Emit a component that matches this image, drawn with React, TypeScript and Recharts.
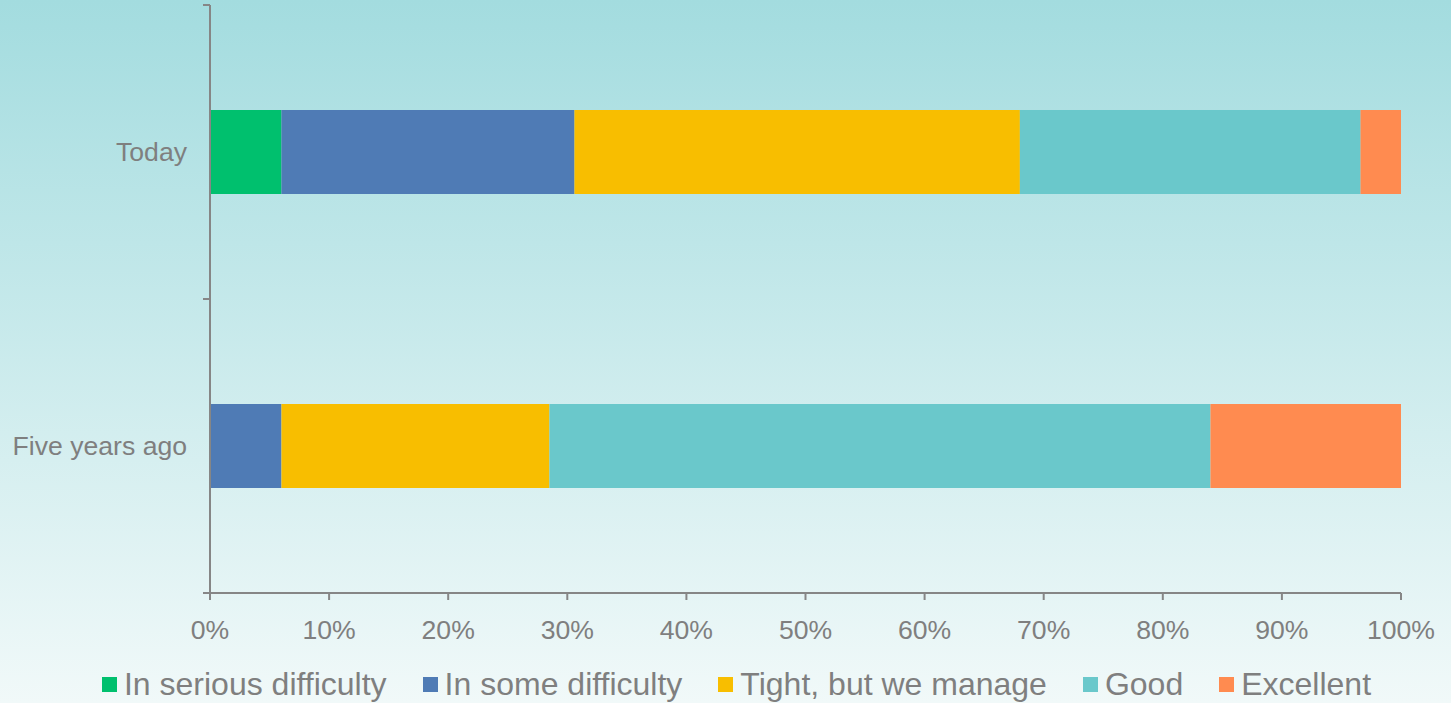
import React from "react";
import {
  BarChart,
  Bar,
  XAxis,
  YAxis,
  Legend,
} from "recharts";

const categories = ["Today", "Five years ago"];
const seriesNames = [
  "In serious difficulty",
  "In some difficulty",
  "Tight, but we manage",
  "Good",
  "Excellent",
];
const seriousDifficulty = [6.0, 0];
const someDifficulty = [24.6, 6.0];
const tightButManage = [37.4, 22.5];
const good = [28.6, 55.5];
const excellent = [3.4, 16.0];
const xTicks = [0, 10, 20, 30, 40, 50, 60, 70, 80, 90, 100];

const colors = ["#00c06e", "#4f7bb5", "#f8be00", "#6ac8cb", "#ff8b50"];
const seriesValues = [
  seriousDifficulty,
  someDifficulty,
  tightButManage,
  good,
  excellent,
];

const data = categories.map((name, i) => {
  const row: Record<string, string | number> = { name };
  seriesNames.forEach((s, j) => {
    row[s] = seriesValues[j][i];
  });
  return row;
});

const AXIS = "#868686";
const TEXT = "#7f7f7f";
const FONT = "'Liberation Sans', Arial, sans-serif";

function CategoryTick(props: any) {
  const { x, y, payload, index, visibleTicksCount } = props;
  const off = payload?.offset ?? 0;
  const last = index === visibleTicksCount - 1;
  return (
    <g>
      <line x1={x - 7} x2={x} y1={y - off} y2={y - off} stroke={AXIS} strokeWidth={2} />
      {last && (
        <line x1={x - 7} x2={x} y1={y + off} y2={y + off} stroke={AXIS} strokeWidth={2} />
      )}
      <text
        x={x - 23}
        y={y}
        dy="0.35em"
        textAnchor="end"
        fill={TEXT}
        fontSize={26.6}
        fontFamily={FONT}
      >
        {payload.value}
      </text>
    </g>
  );
}

function LegendContent() {
  return (
    <div
      style={{
        display: "flex",
        justifyContent: "center",
        alignItems: "center",
        paddingTop: 13,
        paddingLeft: 62,
        fontFamily: FONT,
        fontSize: 32,
        color: TEXT,
      }}
    >
      {seriesNames.map((s, i) => (
        <div
          key={s}
          style={{
            display: "flex",
            alignItems: "center",
            marginRight: i < seriesNames.length - 1 ? 36 : 0,
          }}
        >
          <span
            style={{
              display: "inline-block",
              width: 15,
              height: 15,
              background: colors[i],
              marginRight: 7,
            }}
          />
          <span>{s}</span>
        </div>
      ))}
    </div>
  );
}

export default function App() {
  return (
    <div
      style={{
        position: "absolute",
        left: 0,
        top: 0,
        width: 1451,
        height: 703,
        background: "linear-gradient(to bottom, #a3dcdf 0%, #f1f9f9 100%)",
      }}
    >
      <BarChart
        width={1451}
        height={703}
        data={data}
        layout="vertical"
        margin={{ top: 5, right: 50, left: 10, bottom: 0 }}
        barSize={84}
      >
        <XAxis
          type="number"
          domain={[0, 100]}
          ticks={xTicks}
          tickFormatter={(v) => `${v}%`}
          stroke={AXIS}
          strokeWidth={2}
          tickSize={7}
          tickMargin={20}
          height={60}
          tick={{ fill: TEXT, fontSize: 26.6, fontFamily: FONT }}
          interval={0}
        />
        <YAxis
          type="category"
          dataKey="name"
          width={200}
          stroke={AXIS}
          strokeWidth={2}
          tickLine={false}
          tickSize={0}
          tickMargin={0}
          tick={<CategoryTick />}
          interval={0}
        />
        <Legend verticalAlign="bottom" height={50} content={<LegendContent />} />
        {seriesNames.map((s, i) => (
          <Bar
            key={s}
            dataKey={s}
            stackId="a"
            fill={colors[i]}
            isAnimationActive={false}
          />
        ))}
      </BarChart>
    </div>
  );
}
